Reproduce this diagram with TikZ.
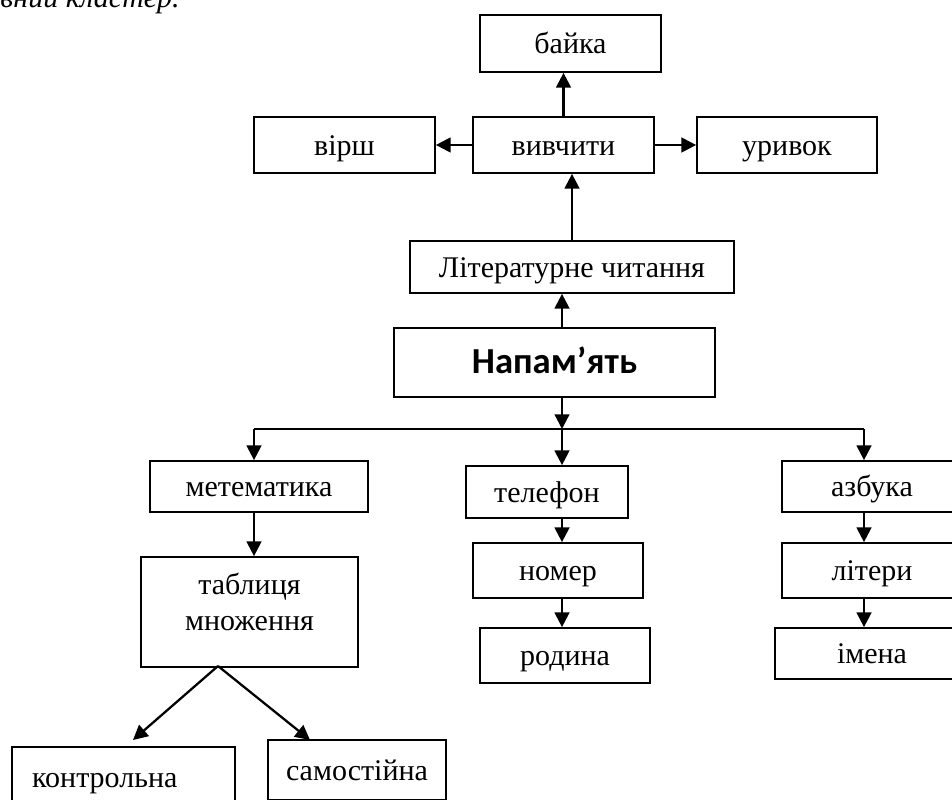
\documentclass[tikz,border=0pt]{standalone}
\usepackage{fontspec}
\setmainfont{Liberation Serif}
\newfontfamily\hdfont{Carlito}
\usetikzlibrary{arrows.meta}
\tikzset{
  box/.style={draw,line width=1.3pt,inner sep=0pt,text height=18pt,text depth=3pt,font=\fontsize{22.5}{27}\selectfont},
  wh/.style 2 args={minimum width=#1,minimum height=#2},
  arr/.style={line width=1.7pt,-{Triangle[length=11pt,width=11pt]}},
}
\begin{document}
\begin{tikzpicture}[x=.75pt,y=-.75pt]
\useasboundingbox(0,0)rectangle(952,799);
\node[anchor=base east,inner sep=0pt,font=\itshape\fontsize{22.5}{27}\selectfont](title)at(180,8){овний кластер.};
% upper part
\node[box,wh={135.75pt}{42.75pt}](bayka)at(570.5,43.5){байка};
\node[box,wh={135.75pt}{42pt}](virsh)at(344.5,145){вірш};
\node[box,wh={135.75pt}{42pt}](vyvch)at(563.5,145){вивчити};
\node[box,wh={135pt}{42pt}](uryvok)at(787,145){уривок};
\node[box,wh={243pt}{39pt}](lit)at(572,267){Літературне читання};
\node[box,wh={240.75pt}{51.75pt},text height=19pt,text depth=3pt,font=\hdfont\bfseries\fontsize{27.5}{32}\selectfont](napam)at(554.5,362.5){Напам’ять};
\draw[arr](vyvch.north)--(vyvch.north|-bayka.south);
\draw[arr](vyvch.west)--(virsh.east);
\draw[arr](vyvch.east)--(uryvok.west);
\draw[arr](lit.north)--(lit.north|-vyvch.south);
% branches
\coordinate(hub)at(562,429);\coordinate(hl)at(254,429);\coordinate(hr)at(864,429);
\draw[arr](napam.south-|hub)--(hub);
\draw[arr](napam.north-|hub)--(lit.south-|hub);
\draw[line width=1.3pt](hl)--(hr);
% left column
\node[box,wh={163.5pt}{38.25pt}](matem)at(259,486.5){метематика};
\node[box,wh={162.75pt}{82.5pt},text height=15pt,text depth=42pt](tabl)at(249.5,612){\begin{tabular}[t]{@{}c@{}}таблиця\\множення\end{tabular}};
\node[box,wh={167.25pt}{45pt},text width=137pt,inner xsep=15pt,align=left](kontr)at(123.5,777){контрольна};
\node[box,wh={133.5pt}{45pt}](samost)at(357,770){самостійна};
\draw[arr](hl)--(hl|-matem.north);
\draw[arr](hl|-matem.south)--(hl|-tabl.north);
\coordinate(apex)at(218,666);\coordinate(tipk)at(133,740);\coordinate(tips)at(310,740);
\draw[arr](apex)--(tipk);\draw[arr](apex)--(tips);
% middle column
\node[box,wh={121.5pt}{39pt}](telef)at(547,492){телефон};
\node[box,wh={127.5pt}{41.25pt}](nomer)at(558,570.5){номер};
\node[box,wh={127.5pt}{41.25pt}](rodyna)at(565,655.5){родина};
\draw[arr](hub)--(hub|-telef.north);
\draw[arr](hub|-telef.south)--(hub|-nomer.north);
\draw[arr](hub|-nomer.south)--(hub|-rodyna.north);
% right column
\node[box,wh={135pt}{38.25pt}](azbuka)at(872,486.5){азбука};
\node[box,wh={135pt}{41.25pt}](litery)at(872,570.5){літери};
\node[box,wh={145.5pt}{38.25pt}](imena)at(872,653.5){імена};
\draw[arr](hr)--(hr|-azbuka.north);
\draw[arr](hr|-azbuka.south)--(hr|-litery.north);
\draw[arr](hr|-litery.south)--(hr|-imena.north);
\end{tikzpicture}
\end{document}
